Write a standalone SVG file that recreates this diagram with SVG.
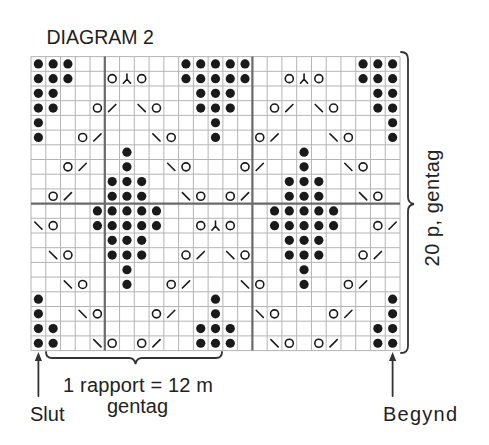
<svg xmlns="http://www.w3.org/2000/svg" xmlns:xlink="http://www.w3.org/1999/xlink" width="489" height="445" viewBox="0 0 489 445">
<style>
.t{font-family:"Liberation Sans",Arial,sans-serif;fill:#222;}
.thin{stroke:#b4b4b4;stroke-width:1;fill:none;}
.thick{stroke:#6a6a6a;stroke-width:2.2;fill:none;}
.br{stroke:#333;stroke-width:1.8;fill:none;stroke-linecap:round;}
.sym{stroke:#1a1a1a;stroke-width:1.6;fill:none;stroke-linecap:round;}
</style>
<defs>
<circle id="d" r="4.6" fill="#1a1a1a"/>
<circle id="o" r="4" class="sym"/>
<path id="s" d="M-3.6,3.6L3.6,-3.6" class="sym"/>
<path id="b" d="M-3.6,-3.6L3.6,3.6" class="sym"/>
<path id="v" d="M0,-4.6V0.5M-3.6,4.6L0,0.5L3.6,4.6" class="sym"/>
</defs>
<rect width="489" height="445" fill="#fff"/>
<text class="t" x="46.5" y="44" font-size="19.5">DIAGRAM 2</text>
<g id="grid">
<path class="thin" d="M31,56.6V350.6M45.76,56.6V350.6M60.52,56.6V350.6M75.28,56.6V350.6M90.04,56.6V350.6M119.56,56.6V350.6M134.32,56.6V350.6M149.08,56.6V350.6M163.84,56.6V350.6M178.6,56.6V350.6M193.36,56.6V350.6M208.12,56.6V350.6M222.88,56.6V350.6M237.64,56.6V350.6M267.16,56.6V350.6M281.92,56.6V350.6M296.68,56.6V350.6M311.44,56.6V350.6M326.2,56.6V350.6M340.96,56.6V350.6M355.72,56.6V350.6M370.48,56.6V350.6M385.24,56.6V350.6M400,56.6V350.6"/>
<path class="thin" d="M31,56.6H400M31,71.3H400M31,86H400M31,100.7H400M31,115.4H400M31,130.1H400M31,144.8H400M31,159.5H400M31,174.2H400M31,188.9H400M31,218.3H400M31,233H400M31,247.7H400M31,262.4H400M31,277.1H400M31,291.8H400M31,306.5H400M31,321.2H400M31,335.9H400M31,350.6H400"/>
<path class="thick" d="M104.8,56.6V350.6M252.4,56.6V350.6M31,203.6H400"/>
</g>
<g id="row1">
<use href="#d" x="38.38" y="63.95"/><use href="#d" x="53.14" y="63.95"/><use href="#d" x="67.9" y="63.95"/>
<use href="#d" x="185.98" y="63.95"/><use href="#d" x="200.74" y="63.95"/><use href="#d" x="215.5" y="63.95"/><use href="#d" x="230.26" y="63.95"/><use href="#d" x="245.02" y="63.95"/>
<use href="#d" x="363.1" y="63.95"/><use href="#d" x="377.86" y="63.95"/><use href="#d" x="392.62" y="63.95"/>
</g>
<g id="row2">
<use href="#d" x="38.38" y="78.65"/><use href="#d" x="53.14" y="78.65"/><use href="#d" x="67.9" y="78.65"/>
<use href="#o" x="112.18" y="78.65"/><use href="#v" x="126.94" y="78.65"/><use href="#o" x="141.7" y="78.65"/>
<use href="#d" x="185.98" y="78.65"/><use href="#d" x="200.74" y="78.65"/><use href="#d" x="215.5" y="78.65"/><use href="#d" x="230.26" y="78.65"/><use href="#d" x="245.02" y="78.65"/>
<use href="#o" x="289.3" y="78.65"/><use href="#v" x="304.06" y="78.65"/><use href="#o" x="318.82" y="78.65"/>
<use href="#d" x="363.1" y="78.65"/><use href="#d" x="377.86" y="78.65"/><use href="#d" x="392.62" y="78.65"/>
</g>
<g id="row3">
<use href="#d" x="38.38" y="93.35"/><use href="#d" x="53.14" y="93.35"/>
<use href="#d" x="200.74" y="93.35"/><use href="#d" x="215.5" y="93.35"/><use href="#d" x="230.26" y="93.35"/>
<use href="#d" x="377.86" y="93.35"/><use href="#d" x="392.62" y="93.35"/>
</g>
<g id="row4">
<use href="#d" x="38.38" y="108.05"/><use href="#d" x="53.14" y="108.05"/>
<use href="#o" x="97.42" y="108.05"/><use href="#s" x="112.18" y="108.05"/><use href="#b" x="141.7" y="108.05"/><use href="#o" x="156.46" y="108.05"/>
<use href="#d" x="200.74" y="108.05"/><use href="#d" x="215.5" y="108.05"/><use href="#d" x="230.26" y="108.05"/>
<use href="#o" x="274.54" y="108.05"/><use href="#s" x="289.3" y="108.05"/><use href="#b" x="318.82" y="108.05"/><use href="#o" x="333.58" y="108.05"/>
<use href="#d" x="377.86" y="108.05"/><use href="#d" x="392.62" y="108.05"/>
</g>
<g id="row5">
<use href="#d" x="38.38" y="122.75"/><use href="#d" x="215.5" y="122.75"/><use href="#d" x="392.62" y="122.75"/>
</g>
<g id="row6">
<use href="#d" x="38.38" y="137.45"/>
<use href="#o" x="82.66" y="137.45"/><use href="#s" x="97.42" y="137.45"/><use href="#b" x="156.46" y="137.45"/><use href="#o" x="171.22" y="137.45"/>
<use href="#d" x="215.5" y="137.45"/>
<use href="#o" x="259.78" y="137.45"/><use href="#s" x="274.54" y="137.45"/><use href="#b" x="333.58" y="137.45"/><use href="#o" x="348.34" y="137.45"/>
<use href="#d" x="392.62" y="137.45"/>
</g>
<g id="row7">
<use href="#d" x="126.94" y="152.15"/><use href="#d" x="304.06" y="152.15"/>
</g>
<g id="row8">
<use href="#o" x="67.9" y="166.85"/><use href="#s" x="82.66" y="166.85"/>
<use href="#d" x="126.94" y="166.85"/>
<use href="#b" x="171.22" y="166.85"/><use href="#o" x="185.98" y="166.85"/>
<use href="#o" x="245.02" y="166.85"/><use href="#s" x="259.78" y="166.85"/>
<use href="#d" x="304.06" y="166.85"/>
<use href="#b" x="348.34" y="166.85"/><use href="#o" x="363.1" y="166.85"/>
</g>
<g id="row9">
<use href="#d" x="112.18" y="181.55"/><use href="#d" x="126.94" y="181.55"/><use href="#d" x="141.7" y="181.55"/>
<use href="#d" x="289.3" y="181.55"/><use href="#d" x="304.06" y="181.55"/><use href="#d" x="318.82" y="181.55"/>
</g>
<g id="row10">
<use href="#o" x="53.14" y="196.25"/><use href="#s" x="67.9" y="196.25"/>
<use href="#d" x="112.18" y="196.25"/><use href="#d" x="126.94" y="196.25"/><use href="#d" x="141.7" y="196.25"/>
<use href="#b" x="185.98" y="196.25"/><use href="#o" x="200.74" y="196.25"/>
<use href="#o" x="230.26" y="196.25"/><use href="#s" x="245.02" y="196.25"/>
<use href="#d" x="289.3" y="196.25"/><use href="#d" x="304.06" y="196.25"/><use href="#d" x="318.82" y="196.25"/>
<use href="#b" x="363.1" y="196.25"/><use href="#o" x="377.86" y="196.25"/>
</g>
<g id="row11">
<use href="#d" x="97.42" y="210.95"/><use href="#d" x="112.18" y="210.95"/><use href="#d" x="126.94" y="210.95"/><use href="#d" x="141.7" y="210.95"/><use href="#d" x="156.46" y="210.95"/>
<use href="#d" x="274.54" y="210.95"/><use href="#d" x="289.3" y="210.95"/><use href="#d" x="304.06" y="210.95"/><use href="#d" x="318.82" y="210.95"/><use href="#d" x="333.58" y="210.95"/>
</g>
<g id="row12">
<use href="#b" x="38.38" y="225.65"/><use href="#o" x="53.14" y="225.65"/>
<use href="#d" x="97.42" y="225.65"/><use href="#d" x="112.18" y="225.65"/><use href="#d" x="126.94" y="225.65"/><use href="#d" x="141.7" y="225.65"/><use href="#d" x="156.46" y="225.65"/>
<use href="#o" x="200.74" y="225.65"/><use href="#v" x="215.5" y="225.65"/><use href="#o" x="230.26" y="225.65"/>
<use href="#d" x="274.54" y="225.65"/><use href="#d" x="289.3" y="225.65"/><use href="#d" x="304.06" y="225.65"/><use href="#d" x="318.82" y="225.65"/><use href="#d" x="333.58" y="225.65"/>
<use href="#o" x="377.86" y="225.65"/><use href="#s" x="392.62" y="225.65"/>
</g>
<g id="row13">
<use href="#d" x="112.18" y="240.35"/><use href="#d" x="126.94" y="240.35"/><use href="#d" x="141.7" y="240.35"/>
<use href="#d" x="289.3" y="240.35"/><use href="#d" x="304.06" y="240.35"/><use href="#d" x="318.82" y="240.35"/>
</g>
<g id="row14">
<use href="#b" x="53.14" y="255.05"/><use href="#o" x="67.9" y="255.05"/>
<use href="#d" x="112.18" y="255.05"/><use href="#d" x="126.94" y="255.05"/><use href="#d" x="141.7" y="255.05"/>
<use href="#o" x="185.98" y="255.05"/><use href="#s" x="200.74" y="255.05"/>
<use href="#b" x="230.26" y="255.05"/><use href="#o" x="245.02" y="255.05"/>
<use href="#d" x="289.3" y="255.05"/><use href="#d" x="304.06" y="255.05"/><use href="#d" x="318.82" y="255.05"/>
<use href="#o" x="363.1" y="255.05"/><use href="#s" x="377.86" y="255.05"/>
</g>
<g id="row15">
<use href="#d" x="126.94" y="269.75"/><use href="#d" x="304.06" y="269.75"/>
</g>
<g id="row16">
<use href="#b" x="67.9" y="284.45"/><use href="#o" x="82.66" y="284.45"/>
<use href="#d" x="126.94" y="284.45"/>
<use href="#o" x="171.22" y="284.45"/><use href="#s" x="185.98" y="284.45"/>
<use href="#b" x="245.02" y="284.45"/><use href="#o" x="259.78" y="284.45"/>
<use href="#d" x="304.06" y="284.45"/>
<use href="#o" x="348.34" y="284.45"/><use href="#s" x="363.1" y="284.45"/>
</g>
<g id="row17">
<use href="#d" x="38.38" y="299.15"/><use href="#d" x="215.5" y="299.15"/><use href="#d" x="392.62" y="299.15"/>
</g>
<g id="row18">
<use href="#d" x="38.38" y="313.85"/>
<use href="#b" x="82.66" y="313.85"/><use href="#o" x="97.42" y="313.85"/>
<use href="#o" x="156.46" y="313.85"/><use href="#s" x="171.22" y="313.85"/>
<use href="#d" x="215.5" y="313.85"/>
<use href="#b" x="259.78" y="313.85"/><use href="#o" x="274.54" y="313.85"/>
<use href="#o" x="333.58" y="313.85"/><use href="#s" x="348.34" y="313.85"/>
<use href="#d" x="392.62" y="313.85"/>
</g>
<g id="row19">
<use href="#d" x="38.38" y="328.55"/><use href="#d" x="53.14" y="328.55"/>
<use href="#d" x="200.74" y="328.55"/><use href="#d" x="215.5" y="328.55"/><use href="#d" x="230.26" y="328.55"/>
<use href="#d" x="377.86" y="328.55"/><use href="#d" x="392.62" y="328.55"/>
</g>
<g id="row20">
<use href="#d" x="38.38" y="343.25"/><use href="#d" x="53.14" y="343.25"/>
<use href="#b" x="97.42" y="343.25"/><use href="#o" x="112.18" y="343.25"/>
<use href="#o" x="141.7" y="343.25"/><use href="#s" x="156.46" y="343.25"/>
<use href="#d" x="200.74" y="343.25"/><use href="#d" x="215.5" y="343.25"/><use href="#d" x="230.26" y="343.25"/>
<use href="#b" x="274.54" y="343.25"/><use href="#o" x="289.3" y="343.25"/>
<use href="#o" x="318.82" y="343.25"/><use href="#s" x="333.58" y="343.25"/>
<use href="#d" x="377.86" y="343.25"/><use href="#d" x="392.62" y="343.25"/>
</g>
<g id="connectors">
<path class="br" d="M401,52Q408,52 408,59V197Q408,203 414,204Q408,205 408,211V346Q408,353 401,353"/>
<path class="br" d="M46,352Q46,358 52,358H129Q134.5,358 135.5,364Q136.5,358 142,358H216Q222,358 222,352"/>
<path class="br" d="M38.4,396V360"/>
<path d="M38.4,352L42,361H34.8Z" fill="#333"/>
<path class="br" d="M392.6,396V360"/>
<path d="M392.6,352L396.2,361H389Z" fill="#333"/>
</g>
<g id="labels">
<text class="t" x="63" y="391.5" font-size="20" textLength="150" lengthAdjust="spacing">1 rapport = 12 m</text>
<text class="t" x="137.5" y="412.5" font-size="20" text-anchor="middle">gentag</text>
<text class="t" x="30" y="421" font-size="20">Slut</text>
<text class="t" x="383" y="421" font-size="20" textLength="74" lengthAdjust="spacing">Begynd</text>
<text class="t" transform="translate(439,208) rotate(-90)" font-size="20" text-anchor="middle" textLength="117" lengthAdjust="spacing">20 p, gentag</text>
</g>
</svg>
